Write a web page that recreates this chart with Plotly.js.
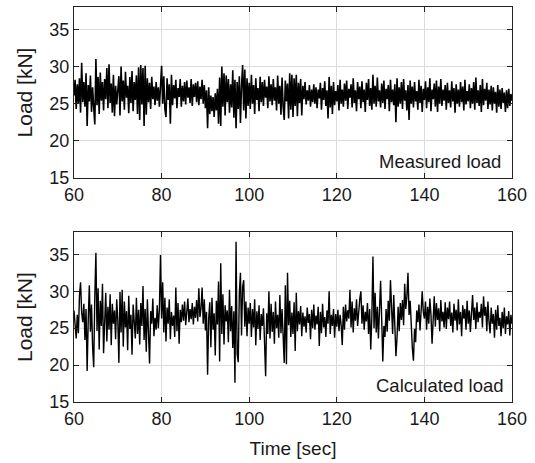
<!DOCTYPE html>
<html>
<head>
<meta charset="utf-8">
<script src="https://cdn.plot.ly/plotly-3.0.1.min.js"></script>
<style>html,body{margin:0;padding:0;background:#fff;}#chart{width:535px;height:463px;}</style>
</head>
<body>
<div id="chart"></div>
<script>
// Sampling: start time and step (sec)
const tStart = 60;
const tStep = 0.25;

// Measured load [kN] (one row = 5 s)
const measuredLoad = [
26.1,28.2,24.3,27.6,25.0,28.4,23.8,30.5,25.2,27.9,24.6,29.1,22.0,27.5,25.3,28.8,23.9,27.2,24.5,22.2,
31.0,24.8,28.6,23.6,29.2,25.4,27.9,24.1,28.3,25.6,29.8,24.4,30.3,25.1,27.7,23.8,28.9,23.3,27.4,24.9,
26.8,28.7,23.4,30.0,25.3,28.1,24.2,29.3,25.8,27.4,23.7,28.6,25.1,29.4,24.0,27.9,25.5,28.8,23.6,29.9,
22.8,30.2,24.9,29.8,22.0,30.1,23.5,28.4,25.2,27.8,24.3,28.6,25.6,27.3,24.8,27.9,25.4,27.2,24.6,28.1,
30.1,25.0,28.7,24.3,23.2,28.4,25.5,27.6,22.3,28.9,24.8,27.5,25.7,28.2,24.4,27.1,25.9,28.3,24.6,27.4,
25.3,27.9,24.9,28.1,25.8,27.2,25.1,28.3,24.7,27.6,25.9,27.8,25.2,28.0,24.8,27.3,25.6,28.2,25.0,27.5,
24.4,26.8,21.7,27.2,23.6,26.1,24.0,25.9,23.2,26.4,24.1,27.0,22.3,28.5,22.0,30.0,24.6,29.1,23.4,28.8,
25.2,28.3,23.8,27.6,24.5,29.5,23.1,28.2,21.7,27.9,24.3,28.7,22.4,27.4,30.2,24.1,29.6,23.0,28.4,24.7,
27.8,24.3,28.9,25.0,27.5,23.6,28.4,25.5,27.1,24.0,28.6,25.2,27.9,24.7,28.2,25.8,27.3,24.4,28.7,25.3,
27.6,24.8,28.3,25.4,27.2,24.1,28.8,25.0,27.4,23.5,28.5,24.6,22.8,28.1,25.3,27.7,23.0,29.1,24.2,28.9,
23.2,28.4,24.7,28.9,23.3,27.8,25.1,28.3,23.4,27.4,25.6,27.9,24.9,26.8,25.4,27.5,24.6,26.9,25.2,27.6,
25.0,27.2,24.4,26.9,25.7,27.8,24.2,27.1,25.5,28.0,24.7,26.8,23.0,28.6,24.5,27.4,23.6,27.9,24.8,26.7,
25.3,27.5,24.1,28.2,25.0,26.9,24.6,27.7,25.4,28.1,24.3,27.0,25.8,27.6,24.5,28.4,25.1,26.8,24.0,27.9,
25.6,27.3,24.4,28.0,25.2,26.9,23.9,27.8,25.5,28.3,24.7,27.1,24.2,28.9,25.0,27.4,24.6,28.5,25.3,26.8,
24.5,27.7,25.1,28.1,24.3,27.0,25.6,27.5,24.0,28.2,25.2,26.9,24.8,27.6,22.5,28.4,24.6,27.2,25.0,27.9,
24.3,28.3,25.4,26.8,24.1,27.5,22.8,28.1,25.0,27.3,24.5,27.9,25.3,26.7,24.2,28.2,25.1,27.4,23.9,27.0,
25.5,28.0,24.4,27.2,25.2,28.4,24.0,26.9,25.6,27.7,24.6,28.1,23.9,27.3,25.0,28.3,24.7,26.9,25.4,27.5,
24.2,27.8,25.1,26.8,24.5,28.0,25.3,27.1,23.8,27.6,25.0,26.9,24.6,27.9,25.2,27.3,24.1,28.2,24.9,26.7,
25.3,27.6,24.4,27.1,25.0,27.9,24.2,28.5,25.1,26.8,24.7,27.5,23.9,28.3,24.8,27.0,25.4,27.8,24.3,26.9,
24.9,27.4,24.1,27.2,25.0,26.6,23.8,27.5,24.6,26.9,24.3,27.1,25.1,26.5,23.9,26.8,24.4,27.0,24.7,26.3,
25.4
];

// Calculated load [kN] (one row = 5 s)
const calculatedLoad = [
27.4,25.2,23.6,26.8,24.3,29.4,31.2,27.1,25.8,28.3,23.4,27.6,19.2,26.1,30.8,24.5,28.2,22.4,19.7,29.3,
35.2,24.6,30.4,22.1,28.7,25.3,31.0,21.6,27.5,29.8,23.2,27.9,24.8,29.6,22.7,28.3,25.6,27.4,23.5,28.9,
26.1,20.3,29.9,24.4,30.2,22.5,28.6,25.1,27.3,22.0,29.4,24.9,26.8,21.4,28.2,25.7,23.6,29.1,24.2,27.5,
22.8,28.4,25.3,30.7,23.4,27.6,21.8,28.9,24.1,20.2,27.3,25.6,29.0,23.9,26.4,24.8,28.1,25.0,27.6,34.9,
26.3,31.2,24.4,29.1,23.2,27.8,25.6,28.9,23.5,27.2,25.3,26.7,23.8,30.5,24.6,28.4,22.9,27.5,25.8,28.2,
26.0,28.6,25.4,27.3,29.0,25.8,27.6,26.2,28.4,25.5,27.9,26.4,28.8,25.9,30.4,26.5,27.7,30.5,25.6,28.9,
24.7,27.2,18.7,26.3,28.5,22.4,29.1,24.8,27.0,21.3,28.7,25.5,31.3,20.5,33.8,24.2,29.6,22.8,28.1,25.9,
27.4,23.1,30.2,24.6,28.0,22.3,27.3,17.6,36.7,21.5,20.4,29.8,32.5,24.0,30.6,31.5,25.2,28.6,23.9,27.8,
25.6,28.4,23.8,27.6,25.1,28.9,22.7,27.3,24.9,28.1,23.4,26.9,25.3,27.7,22.6,18.5,27.0,24.2,30.0,23.6,
28.3,24.5,27.2,22.9,28.6,25.0,26.8,23.7,29.5,24.3,27.6,22.5,20.3,30.8,20.1,32.5,25.4,28.7,23.8,27.1,
24.2,28.5,21.9,29.8,24.6,27.3,25.5,28.0,23.9,27.1,25.2,26.6,24.4,27.8,25.7,26.9,23.5,27.5,25.0,28.2,
24.8,26.7,25.5,27.9,22.6,27.2,24.3,28.3,25.1,26.5,23.8,27.4,25.6,30.0,24.2,26.8,25.3,27.6,23.7,26.9,
25.2,27.5,24.6,26.8,25.4,22.7,27.9,24.8,28.2,25.9,27.4,26.3,30.2,25.1,28.6,24.4,27.7,26.0,28.9,25.3,
27.5,29.0,30.0,25.6,28.1,24.8,27.2,25.9,28.4,24.2,27.6,22.1,26.5,34.7,25.0,29.8,24.4,27.9,23.6,28.3,
31.4,26.2,20.5,25.3,23.8,27.6,24.5,28.7,26.0,31.5,27.4,24.2,29.5,25.6,21.2,23.7,27.9,24.6,28.4,26.1,
28.8,25.4,31.0,27.6,29.3,32.5,26.8,28.7,24.0,22.3,20.6,24.9,23.1,27.4,25.8,28.2,24.7,26.9,30.0,27.2,
26.3,28.6,24.8,27.9,25.6,29.0,26.8,22.9,27.5,29.3,25.2,28.4,26.1,27.7,24.6,28.8,25.9,27.2,25.1,28.5,
24.9,27.8,26.2,28.6,25.3,27.1,24.4,28.3,26.0,27.5,24.7,28.9,25.5,27.2,23.9,28.1,26.3,27.6,24.8,28.7,
25.6,27.4,24.5,28.2,29.5,26.1,27.8,24.9,28.5,25.8,27.2,26.4,28.3,25.1,29.3,26.7,27.9,24.6,28.6,25.9,
24.3,27.8,25.6,26.9,23.7,27.5,24.8,28.1,25.3,26.4,23.9,27.2,25.0,27.8,24.2,26.6,25.5,27.3,24.0,26.8,
25.6
];

const xTicks = [60, 80, 100, 120, 140, 160];
const yTicks = [15, 20, 25, 30, 35];
const panelLabels = ["Measured load", "Calculated load"];
const yTitle = "Load [kN]";
const xTitle = "Time [sec]";

const timeM = measuredLoad.map((_, i) => tStart + i * tStep);
const timeC = calculatedLoad.map((_, i) => tStart + i * tStep);

const FONT = "Liberation Sans, Arial, sans-serif";
const TXT = "#1a1a1a";

function xAxis(anchor, showTitle) {
  const a = {
    anchor: anchor, range: [60, 160], tickvals: xTicks, ticktext: xTicks.map(String),
    showline: true, linecolor: "#222", linewidth: 1, mirror: "ticks",
    ticks: "inside", ticklen: 5, tickcolor: "#222",
    showgrid: true, gridcolor: "#dcdcdc", gridwidth: 1, zeroline: false,
    tickfont: {family: FONT, size: 18, color: TXT}
  };
  if (showTitle) a.title = {text: xTitle, font: {family: FONT, size: 19, color: TXT}, standoff: 14};
  return a;
}
function yAxis(anchor, domain) {
  return {
    anchor: anchor, domain: domain, range: [15, 38], tickvals: yTicks, ticktext: yTicks.map(String),
    showline: true, linecolor: "#222", linewidth: 1, mirror: "ticks",
    ticks: "inside", ticklen: 5, tickcolor: "#222",
    showgrid: true, gridcolor: "#dcdcdc", gridwidth: 1, zeroline: false,
    tickfont: {family: FONT, size: 18, color: TXT},
    title: {text: yTitle, font: {family: FONT, size: 21, color: TXT}, standoff: 11}
  };
}

const traces = [
  {x: timeM, y: measuredLoad, xaxis: "x", yaxis: "y", type: "scatter", mode: "lines",
   line: {color: "#000", width: 1.6}, hoverinfo: "skip"},
  {x: timeC, y: calculatedLoad, xaxis: "x2", yaxis: "y2", type: "scatter", mode: "lines",
   line: {color: "#000", width: 1.4}, hoverinfo: "skip"}
];

const layout = {
  width: 535, height: 463,
  margin: {l: 74, r: 23, t: 7, b: 61},
  paper_bgcolor: "#fff", plot_bgcolor: "#fff",
  showlegend: false,
  xaxis: xAxis("y", false),
  yaxis: yAxis("x", [0.567, 1]),
  xaxis2: xAxis("y2", true),
  yaxis2: yAxis("x2", [0, 0.430]),
  annotations: [
    {text: panelLabels[0], xref: "x", yref: "y", x: 158, y: 17.2, xanchor: "right", yanchor: "middle",
     showarrow: false, font: {family: FONT, size: 18.5, color: TXT}},
    {text: panelLabels[1], xref: "x2", yref: "y2", x: 158.6, y: 17.3, xanchor: "right", yanchor: "middle",
     showarrow: false, font: {family: FONT, size: 18.5, color: TXT}}
  ]
};

Plotly.newPlot("chart", traces, layout, {staticPlot: true, displayModeBar: false});
</script>
</body>
</html>
